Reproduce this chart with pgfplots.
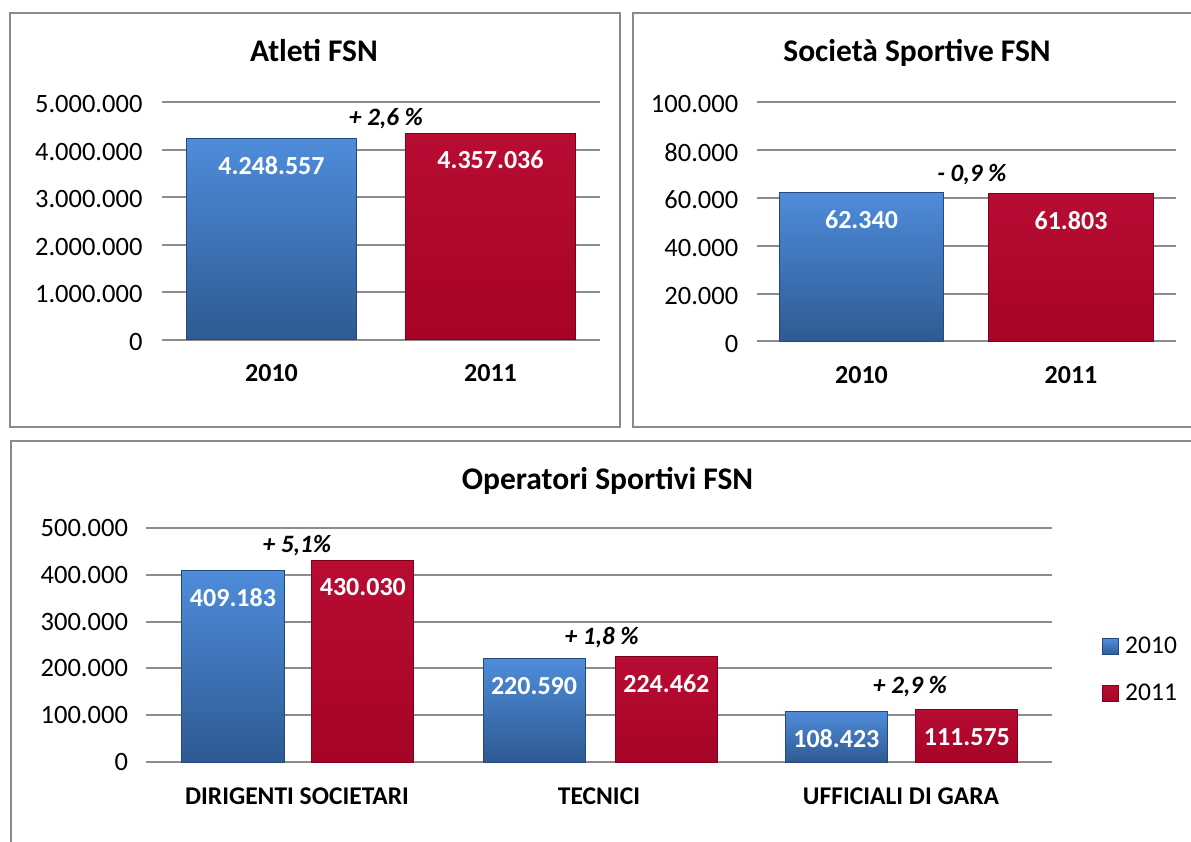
\documentclass[border=0pt]{standalone}
\usepackage{fontspec}
\setmainfont{Carlito}
\usepackage{pgfplots}
\pgfplotsset{compat=1.18}

\definecolor{gridc}{HTML}{8C8C8C}
\definecolor{framec}{HTML}{8A8A8A}
\definecolor{blueT}{HTML}{4F8CDA}
\definecolor{blueB}{HTML}{2E5A93}
\definecolor{blueE}{HTML}{24497A}
\definecolor{redT}{HTML}{B80C33}
\definecolor{redB}{HTML}{A60427}
\definecolor{redE}{HTML}{7E001B}

\newcommand\tickfont{\fontsize{26.5}{31}\selectfont}
\newcommand\legfont{\fontsize{25.5}{30}\selectfont}
\newcommand\titlefont{\fontsize{31.5}{37}\selectfont\bfseries}
\newcommand\catfont{\fontsize{26}{31}\selectfont\bfseries}
\newcommand\catfontb{\fontsize{25.5}{30}\selectfont\bfseries}
\newcommand\labfont{\fontsize{26}{31}\selectfont\bfseries}
\newcommand\annfont{\fontsize{25}{30}\selectfont\bfseries\itshape}

\tikzset{
  bluebar/.style={fill=blueT, top color=blueT, bottom color=blueB, draw=blueE, line width=1pt},
  redbar/.style={fill=redT, top color=redT, bottom color=redB, draw=redE, line width=1pt},
}
\pgfplotsset{
  panel/.style={
    scale only axis, ybar, bar shift=0pt,
    ymin=0, axis line style={draw=none}, major tick length=0pt,
    scaled y ticks=false,
    ymajorgrids, major grid style={gridc, line width=2pt},
    tick label style={font=\tickfont, text=black},
    yticklabel style={anchor=east},
    xticklabel style={anchor=base, yshift=-41.7pt, font=\catfont},
    nodes near coords, point meta=explicit symbolic,
    every node near coord/.append style={anchor=center, yshift=-27pt, font=\labfont, text=white},
    clip=false,
  },
}

\begin{document}
\begin{tikzpicture}
\path[use as bounding box, fill=white] (0pt,0pt) rectangle (1191pt,841pt);
% panel frames
\draw[framec, line width=2pt] (10pt,414.3pt) rectangle (619.6pt,827.7pt);
\draw[framec, line width=2pt] (1200pt,827.7pt) -- (632.7pt,827.7pt) -- (632.7pt,414.3pt) -- (1200pt,414.3pt);
\draw[framec, line width=2pt] (1200pt,400.3pt) -- (10.7pt,400.3pt) -- (10.7pt,-5pt);
% titles
\node[anchor=base, font=\titlefont] at (314pt,779pt) {Atleti FSN};
\node[anchor=base, font=\titlefont] at (917pt,779pt) {Società Sportive FSN};
\node[anchor=base, font=\titlefont] at (607.5pt,351.7pt) {Operatori Sportivi FSN};
% legend keys
\path[bluebar] (1102pt,186pt) rectangle (1118pt,202pt);
\path[redbar] (1102pt,140pt) rectangle (1118pt,156pt);
\node[anchor=base west, font=\legfont, inner sep=0pt] at (1125pt,187pt) {2010};
\node[anchor=base west, font=\legfont, inner sep=0pt] at (1125pt,141pt) {2011};

% Atleti
\begin{axis}[panel, at={(162pt,501pt)}, anchor=south west,
  width=438pt, height=237.5pt, xmin=-0.5, xmax=1.5, ymax=5000000,
  bar width=0.78,
  xtick={0,1}, xticklabels={2010,2011},
  ytick={0,1000000,2000000,3000000,4000000,5000000},
  yticklabels={0,1.000.000,2.000.000,3.000.000,4.000.000,5.000.000},
  yticklabel style={xshift=-16pt, yshift=-2pt}]
\addplot[bluebar] coordinates {(0,4248557) [4.248.557]};
\addplot[redbar] coordinates {(1,4357036) [4.357.036]};
\node[anchor=base, font=\annfont] at (axis cs:0.523,4526000) {+ 2,6 \%};
\end{axis}

% Societa
\begin{axis}[panel, at={(756.75pt,499.5pt)}, anchor=south west,
  width=419pt, height=239pt, xmin=-0.5, xmax=1.5, ymax=100000,
  bar width=0.785,
  xtick={0,1}, xticklabels={2010,2011},
  ytick={0,20000,40000,60000,80000,100000},
  yticklabels={0,20.000,40.000,60.000,80.000,100.000},
  yticklabel style={xshift=-15pt, yshift=-2pt}]
\addplot[bluebar] coordinates {(0,62340) [62.340]};
\addplot[redbar] coordinates {(1,61803) [61.803]};
\node[anchor=base, font=\annfont] at (axis cs:0.527,66860) {- 0,9 \%};
\end{axis}

% Operatori
\begin{axis}[panel, at={(146pt,78.7pt)}, anchor=south west,
  width=906pt, height=234.6pt, xmin=-0.5, xmax=2.5, ymax=500000,
  bar width=0.338,
  xtick={0,1,2}, xticklabels={DIRIGENTI SOCIETARI,TECNICI,UFFICIALI DI GARA},
  xticklabel style={font=\catfontb},
  ytick={0,100000,200000,300000,400000,500000},
  yticklabels={0,100.000,200.000,300.000,400.000,500.000},
  yticklabel style={xshift=-14.5pt}]
% 2010
\addplot[bluebar] coordinates {(-0.212,409183) [409.183]};
\addplot[bluebar] coordinates {(0.785,220590) [220.590]};
\addplot[bluebar] coordinates {(1.786,108423) [108.423]};
% 2011
\addplot[redbar] coordinates {(0.218,430030) [430.030]};
\addplot[redbar] coordinates {(1.223,224462) [224.462]};
\addplot[redbar] coordinates {(2.218,111575) [111.575]};
\node[anchor=base, font=\annfont] at (axis cs:0,446700) {+ 5,1\%};
\node[anchor=base, font=\annfont] at (axis cs:1.009,252100) {+ 1,8 \%};
\node[anchor=base, font=\annfont] at (axis cs:2.03,147000) {+ 2,9 \%};
\end{axis}
\end{tikzpicture}
\end{document}
